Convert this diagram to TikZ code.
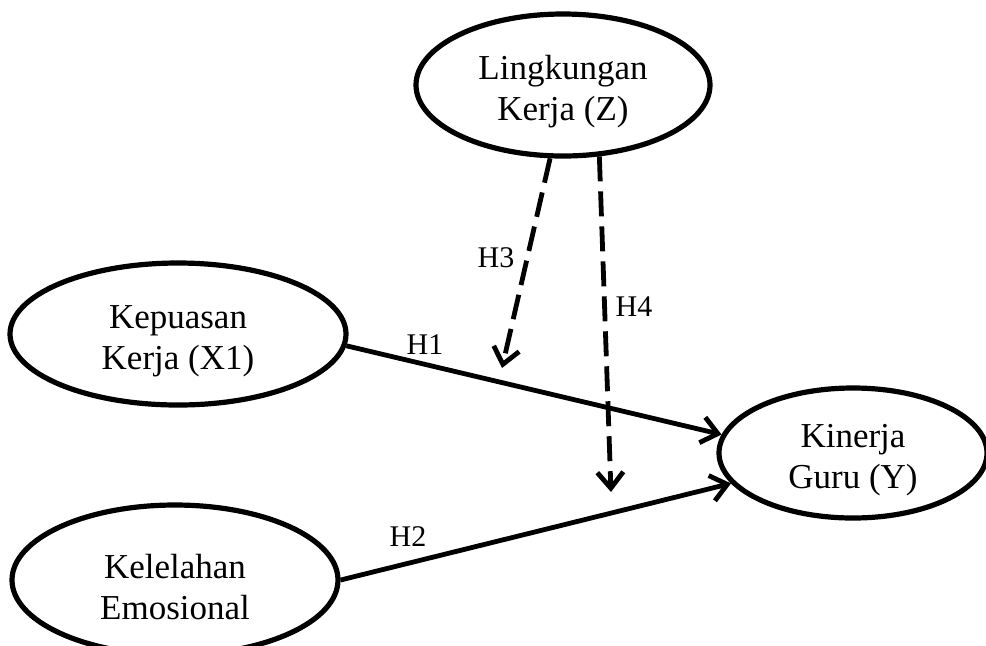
\documentclass[tikz,border=0pt]{standalone}
\usepackage{fontspec}
\setmainfont{Liberation Serif}
\usetikzlibrary{%
  shapes.geometric,
  arrows.meta%
}
\newcommand{\lifttext}{\rule{0pt}{19pt}}
\tikzset{
  construct/.style={
    ellipse,
    draw,
    line width=2.6pt,
    inner sep=0pt,
    align=center,
    font=\fontsize{17.5}{20.5}\selectfont
  },
  effect/.style={
    line width=2.4pt,
    -{Straight Barb[length=8pt,width=13pt]}
  },
  moderation/.style={
    effect,
    dash pattern=on 12.5pt off 5pt
  },
  hyp/.style={
    inner sep=0pt,
    font=\fontsize{15}{17}\selectfont
  }
}

\begin{document}
\begin{tikzpicture}[x=0.5pt,y=-0.5pt]
\useasboundingbox (0,0) rectangle (986,645);
\node[construct,minimum width=147pt,minimum height=71pt] (z) at (563,85) {\lifttext Lingkungan\\Kerja (Z)};
\node[construct,minimum width=168pt,minimum height=71pt] (x1) at (178,334) {\lifttext Kepuasan\\Kerja (X1)};
\node[construct,minimum width=163pt,minimum height=75pt] (x2) at (175,580) {\lifttext Kelelahan\\Emosional};
\node[construct,minimum width=134pt,minimum height=65pt] (y) at (853,453) {\lifttext Kinerja\\Guru (Y)};
\draw[effect] (x1.-4) -- (y.172);
\draw[effect] (x2.east) -- (y.194);
\coordinate (h3end) at (502,368);
\coordinate (h4end) at (611,492);
\foreach \angle/\target in {260/h3end, 297/h4end} {
  \draw[moderation] (z.\angle) -- (\target);
}
\node[hyp] (h1) at (425,345) {H1};
\node[hyp] (h2) at (408,537) {H2};
\node[hyp] (h3) at (496,258) {H3};
\node[hyp] (h4) at (634,307) {H4};
\end{tikzpicture}
\end{document}
